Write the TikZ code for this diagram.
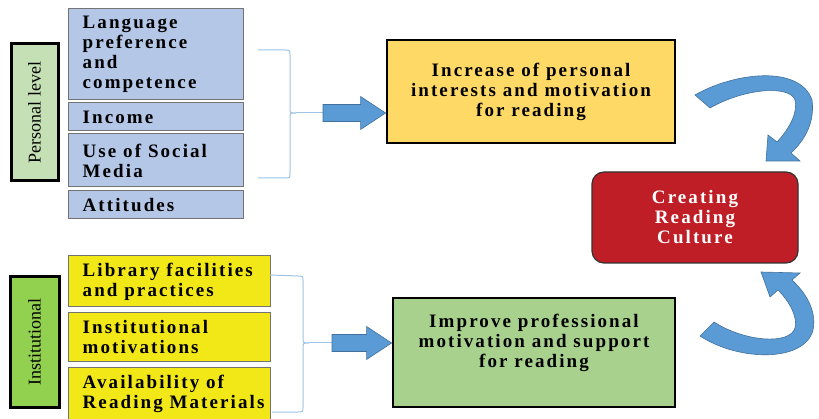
\documentclass[tikz,border=0pt]{standalone}
\usepackage{fontspec}
\setmainfont{Liberation Serif}
\newfontfamily\spc{Liberation Serif}[LetterSpace=11]
\usetikzlibrary{calc}
\definecolor{lblue}{HTML}{B4C7E7}
\definecolor{pgreen}{HTML}{C5E0B4}
\definecolor{igreen}{HTML}{92D050}
\definecolor{lyel}{RGB}{242,232,24}
\definecolor{byel}{HTML}{FFD966}
\definecolor{bgreen}{HTML}{A9D18E}
\definecolor{cred}{RGB}{192,30,38}
\definecolor{abl}{HTML}{5B9BD5}
\definecolor{abld}{HTML}{41719C}
\definecolor{brc}{HTML}{9DC3E6}
\begin{document}
\begin{tikzpicture}[x=1pt,y=-1pt,
  lbox/.style={draw=black!55, line width=1pt, fill=lblue, inner sep=0pt, minimum width=175pt},
  ybox/.style={draw=black!55, line width=1pt, fill=lyel, inner sep=0pt, minimum width=202pt},
  lvl/.style={draw=black, line width=3pt, inner sep=0pt},
  bigbox/.style={draw=black, line width=2.8pt, inner sep=0pt},
  ltext/.style={anchor=west, align=left, inner sep=0pt, font=\spc\bfseries\fontsize{19}{20}\selectfont},
  ctext/.style={align=center, inner sep=0pt, font=\spc\bfseries\fontsize{19}{20}\selectfont},
  rtext/.style={rotate=90, inner sep=0pt, font=\fontsize{18}{20}\selectfont},
  brace/.style={draw=brc, line width=1pt},
  barrow/.style={fill=abl, draw=abld, line width=0.6pt},
  carrow/.style={fill=abl, draw=abld, line width=0.6pt}]
\useasboundingbox (0,0) rectangle (819,419);

% Personal level
\node[lvl, fill=pgreen, minimum width=47pt, minimum height=137pt] (per) at (34.5,112.5) {};
\node[rtext] (perT) at (per) {Personal level};
\node[lbox, minimum height=91pt] (lang) at (155.5,54.5) {};
\node[lbox, minimum height=28pt] (inc) at (155.5,117) {};
\node[lbox, minimum height=53pt] (soc) at (155.5,160.5) {};
\node[lbox, minimum height=28pt] (att) at (155.5,205) {};
\node[ltext] (langT) at ([xshift=15pt]lang.west) {Language\\preference\\and\\competence};
\node[ltext] (incT) at ([xshift=15pt]inc.west) {Income};
\node[ltext] (socT) at ([xshift=15pt]soc.west) {Use of Social\\Media};
\node[ltext] (attT) at ([xshift=15pt]att.west) {Attitudes};

% Institutional
\node[lvl, fill=igreen, minimum width=49pt, minimum height=130pt] (inst) at (34.5,342) {};
\node[rtext] (instT) at (inst) {Institutional};
\node[ybox, minimum height=51pt] (lib) at (169,281.5) {};
\node[ybox, minimum height=49pt] (imot) at (169,337.5) {};
\node[ybox, minimum height=54pt] (avail) at (169,395) {};
\node[ltext] (libT) at ([xshift=15pt]lib.west) {Library facilities\\and practices};
\node[ltext] (imotT) at ([xshift=15pt]imot.west) {Institutional\\motivations};
\node[ltext] (availT) at ([xshift=15pt,yshift=1.5pt]avail.west) {Availability of\\Reading Materials};

% Outcome boxes
\node[bigbox, fill=byel, minimum width=288pt, minimum height=103pt] (incr) at (531,91.5) {};
\node[ctext] (incrT) at (531,92) {Increase of personal\\interests and motivation\\for reading};
\node[bigbox, fill=bgreen, minimum width=282pt, minimum height=109pt] (impr) at (534,352.5) {};
\node[ctext] (imprT) at (534,343) {Improve professional\\motivation and support\\for reading};
\node[draw=black!80, line width=1.2pt, fill=cred, rounded corners=12pt, minimum width=206pt, minimum height=91pt, inner sep=0pt] (crc) at (695,217.5) {};
\node[ctext, text=white] (crcT) at (crc) {Creating\\Reading\\Culture};

% Braces
\coordinate (b1) at (296,113);
\draw[brace] (258,50) -- (285,50) .. controls (290,50) .. (290,55) -- (290,108)
  .. controls (290,113) .. (b1) .. controls (290,113) .. (290,118) -- (290,173)
  .. controls (290,178) .. (285,178) -- (258,178);
\coordinate (b2) at (309,343);
\draw[brace] (270,275) -- (298,276) .. controls (303,276) .. (303,281) -- (303,338)
  .. controls (303,343) .. (b2) .. controls (303,343) .. (303,348) -- (303,407)
  .. controls (303,412) .. (298,412) -- (272,412);

% Straight block arrows
\coordinate (a1s) at (323,113);
\coordinate (t1) at (incr.west |- b1);
\draw[brace] (b1) -- (a1s);
\filldraw[barrow] ($(a1s)+(0,-8.5)$) -- ($(t1)+(-25,-8.5)$) -- ($(t1)+(-25,-16.5)$) -- (t1)
  -- ($(t1)+(-25,16.5)$) -- ($(t1)+(-25,8.5)$) -- ($(a1s)+(0,8.5)$) -- cycle;
\coordinate (a2s) at (332,343);
\coordinate (t2) at (impr.west |- b2);
\draw[brace] (b2) -- (a2s);
\filldraw[barrow] ($(a2s)+(0,-8.5)$) -- ($(t2)+(-25,-8.5)$) -- ($(t2)+(-25,-16.5)$) -- (t2)
  -- ($(t2)+(-25,16.5)$) -- ($(t2)+(-25,8.5)$) -- ($(a2s)+(0,8.5)$) -- cycle;

% Curved arrows
\filldraw[carrow] (695,95) .. controls (735,72) and (800,65) .. (812,100)
  .. controls (815,122) and (805,140) .. (791,153) -- (800,161) -- (766,161) -- (768,135)
  -- (777,142) .. controls (790,128) and (798,112) .. (795,100)
  .. controls (790,85) and (745,88) .. (710,108) -- cycle;
\filldraw[carrow] (700,336) .. controls (740,362) and (805,362) .. (813,330)
  .. controls (817,310) and (805,292) .. (792,280) -- (800,273) -- (761,272) -- (770,297)
  -- (778,290) .. controls (790,302) and (798,318) .. (795,328)
  .. controls (790,345) and (745,342) .. (714,322) -- cycle;
\end{tikzpicture}
\end{document}
